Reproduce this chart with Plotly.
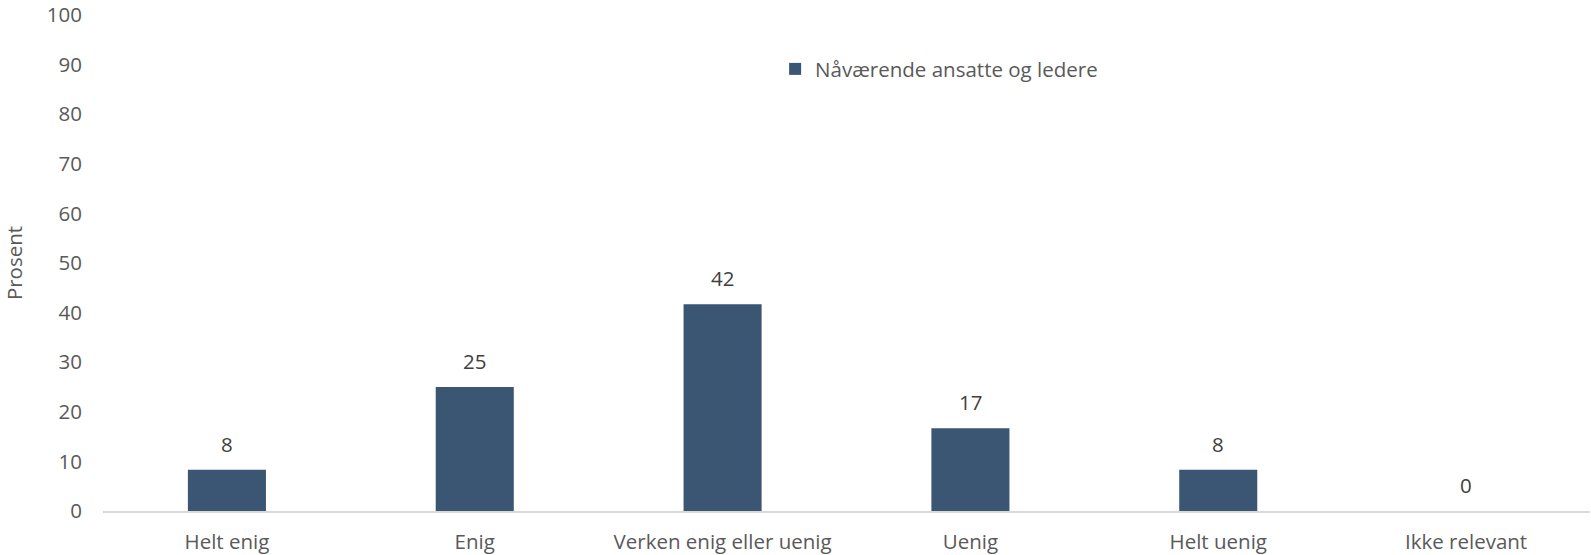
import plotly.graph_objects as go

categories = ["Helt enig", "Enig", "Verken enig eller uenig", "Uenig", "Helt uenig", "Ikke relevant"]
values = [8.3, 25.0, 41.7, 16.7, 8.3, 0.0]
labels = ["8", "25", "42", "17", "8", "0"]
series_name = "Nåværende ansatte og ledere"
y_ticks = [0, 10, 20, 30, 40, 50, 60, 70, 80, 90, 100]

font_family = "Open Sans, Calibri, Carlito, sans-serif"
FS = 20.5
TEXT = "#595959"

fig = go.Figure()
fig.add_trace(go.Bar(
    x=categories, y=values, name=series_name,
    marker=dict(color="#3a5673", line=dict(width=0)),
))

# data labels above bars
for c, v, t in zip(categories, values, labels):
    fig.add_annotation(
        x=c, y=v, text=t, showarrow=False, yanchor="middle", yshift=26,
        font=dict(size=FS, color="#404040", family=font_family),
    )

fig.update_layout(
    width=1591, height=555,
    margin=dict(l=103, r=1, t=15, b=44, autoexpand=False),
    paper_bgcolor="white", plot_bgcolor="white",
    bargap=0.685,
    showlegend=True,
    legend=dict(x=0.452, y=0.891, xanchor="left", yanchor="middle",
                font=dict(size=FS, color=TEXT, family=font_family),
                itemwidth=30, bgcolor="rgba(0,0,0,0)"),
    font=dict(family=font_family, color=TEXT),
)
fig.update_xaxes(
    showgrid=False, showline=True, linecolor="#d9d9d9", linewidth=1.5,
    ticks="", tickfont=dict(size=FS, color=TEXT), ticklabelstandoff=12,
    automargin=False,
)
fig.update_yaxes(
    range=[0, 100], tickvals=y_ticks, showgrid=False, zeroline=False,
    showline=False, ticks="", tickfont=dict(size=FS, color=TEXT),
    ticklabelstandoff=20, automargin=False,
    title=dict(text="Prosent", font=dict(size=FS, color=TEXT), standoff=21),
)

fig.write_html(
    "out.html",
    config={"displayModeBar": False},
    post_script="document.body.style.margin='0';document.body.style.overflow='hidden';",
)
